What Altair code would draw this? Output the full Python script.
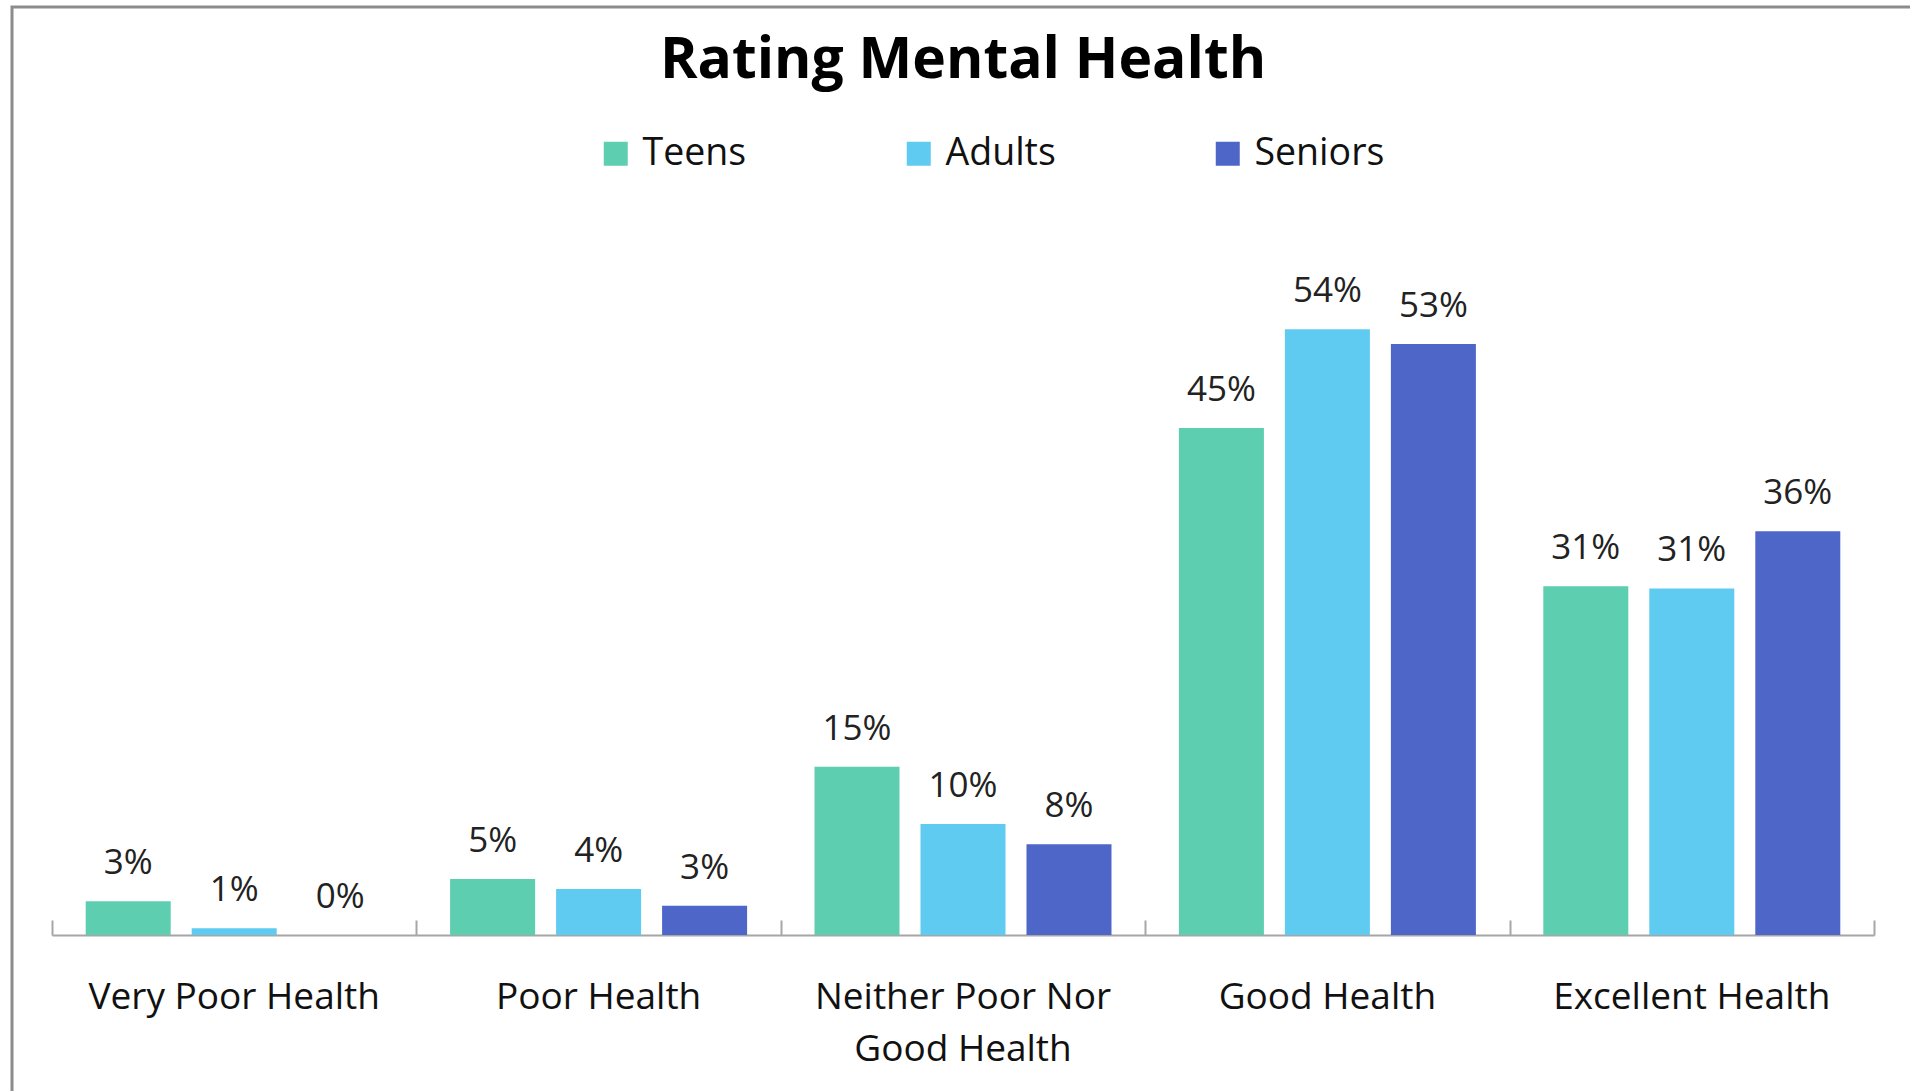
import altair as alt
import pandas as pd

categories = ["Very Poor Health", "Poor Health", "Neither Poor Nor\nGood Health",
              "Good Health", "Excellent Health"]
groups = ["Teens", "Adults", "Seniors"]
teens = [0.030, 0.050, 0.150, 0.452, 0.311]
adults = [0.006, 0.041, 0.099, 0.540, 0.309]
seniors = [0.000, 0.026, 0.081, 0.527, 0.360]
colors = ["#5DCEB0", "#5FCBF1", "#4F66C9"]

rows = []
for i, c in enumerate(categories):
    for g, vals in zip(groups, [teens, adults, seniors]):
        rows.append({"category": c, "group": g, "value": vals[i]})
df = pd.DataFrame(rows)

FONT = "Open Sans"
W, H = 1822, 673
AXIS_GREY = "#a6a6a6"

xscale = alt.Scale(paddingInner=0, paddingOuter=0)
xoff = alt.XOffset("group:N", sort=groups,
                   scale=alt.Scale(paddingInner=0.198, paddingOuter=0.318))
yenc = alt.Y("value:Q", scale=alt.Scale(domain=[0, 0.6]), axis=None)

bars = alt.Chart(df).mark_bar().encode(
    x=alt.X("category:N", sort=categories, scale=xscale,
            axis=alt.Axis(orient="bottom", title=None, labelAngle=0, labelFont=FONT,
                          labelFontSize=37, labelColor="#111111", labelPadding=44,
                          ticks=False, domainColor=AXIS_GREY, domainWidth=2,
                          labelExpr="split(datum.label, '\\n')", labelLineHeight=52,
                          labelBaseline="top", labelLimit=600)),
    xOffset=xoff,
    y=yenc,
    color=alt.Color("group:N", sort=groups,
                    scale=alt.Scale(domain=groups, range=colors),
                    legend=alt.Legend(title=None, orient="none", legendX=545, legendY=-127,
                                      direction="horizontal", columns=3,
                                      symbolType="square", symbolSize=576,
                                      symbolStrokeWidth=0, labelFont=FONT,
                                      labelFontSize=37.5, labelColor="#111111",
                                      labelOffset=8, columnPadding=153,
                                      gridAlign="none")),
)

labels = alt.Chart(df).mark_text(dy=-27, baseline="alphabetic", font=FONT,
                                 fontSize=35, color="#222222").encode(
    x=alt.X("category:N", sort=categories, scale=xscale,
            axis=alt.Axis(orient="bottom", title=None, labels=False, domain=False,
                          ticks=True, tickBand="extent", tickSize=15, offset=-15,
                          tickColor=AXIS_GREY, tickWidth=2)),
    xOffset=xoff,
    y=yenc,
    text=alt.Text("value:Q", format=".0%"),
)

frame = alt.Chart(pd.DataFrame({"f": [0]})).mark_rect(
    filled=False, stroke="#8c8c8c", strokeWidth=3).encode(
    x=alt.value(-40), x2=alt.value(1880), y=alt.value(-255), y2=alt.value(900))

chart = alt.layer(frame, bars, labels).resolve_axis(x="independent").properties(
    width=W, height=H,
    title=alt.TitleParams("Rating Mental Health", font=FONT, fontSize=57,
                          fontWeight="bold", color="#000000", anchor="middle",
                          frame="group", offset=-84),
    autosize=alt.AutoSizeParams(type="none"),
    padding={"left": 52, "top": 262, "right": 36, "bottom": 156},
).configure_view(stroke=None)

chart.save("out.html", embed_options={"renderer": "svg", "actions": False})
